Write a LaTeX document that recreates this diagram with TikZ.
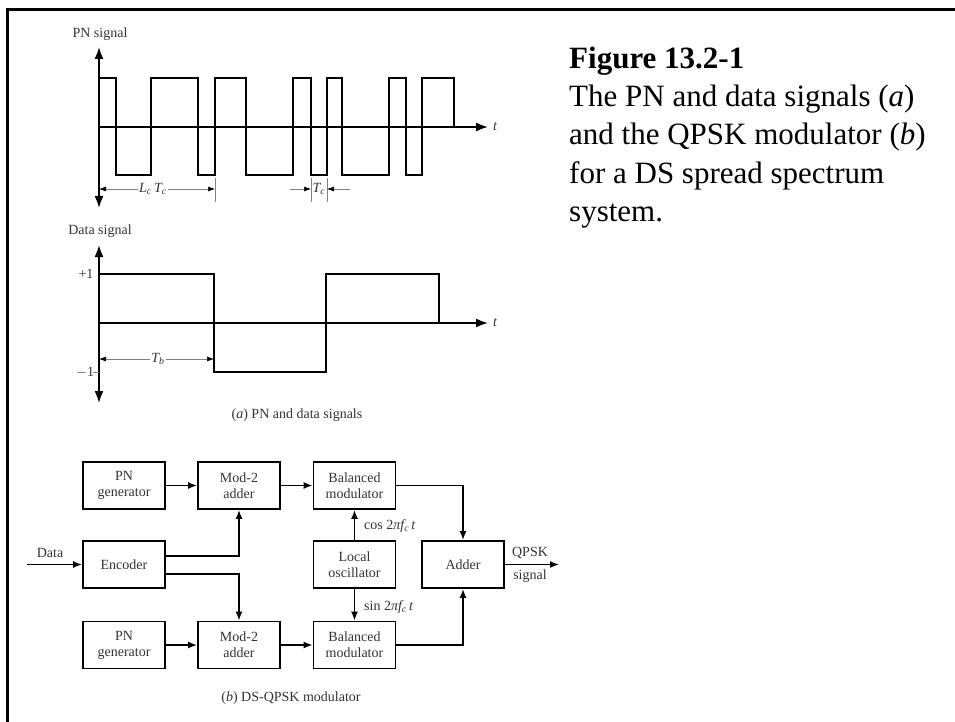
\documentclass[tikz,border=0pt]{standalone}
\usepackage{fontspec}
\setmainfont{Liberation Serif}
\usetikzlibrary{arrows.meta}
\newcommand\dglbl{\fontsize{14}{16}\selectfont}
\newcommand\capfont{\fontsize{31}{38}\selectfont}
\begin{document}
\begin{tikzpicture}[x=1pt,y=-1pt,
  blk/.style={draw, line width=1.8pt, minimum width=82pt, minimum height=47pt, align=center, font=\dglbl, inner sep=0pt, text=black!80},
  sig/.style={line width=2.2pt},
  axisln/.style={line width=1.8pt},
  axarrow/.style={axisln, -{Latex[length=12pt,width=9pt]}},
  axboth/.style={axisln, {Latex[length=12pt,width=9pt]}-{Latex[length=12pt,width=9pt]}},
  flow/.style={line width=1.6pt, -{Latex[length=9pt,width=7pt]}},
  dimln/.style={line width=0.6pt, black!50},
  dimarr/.style={dimln, -{Latex[length=7pt,width=5pt,black]}},
  lab/.style={font=\dglbl, text=black!80, inner sep=1pt},
  captxt/.style={font=\capfont, anchor=base west, inner sep=0pt}
]
\useasboundingbox (0,0) rectangle (955,722);
\fill[white] (0,0) rectangle (955,722);
% frame
\draw[line width=3pt] (7,725) -- (7,10) -- (958,10);

% ---------------- PN signal ----------------
\node[lab] (pnlab) at (100,34) {PN signal};
\draw[axboth] (99,208) -- (99,47);
\draw[axarrow] (99,127) -- (488,127);
\node[lab, anchor=west] (pnt) at (492,127) {\textit{t}};
\draw[sig] (99,78) -- (116,78) -- (116,175) -- (151,175) -- (151,78) -- (198,78) -- (198,175)
  -- (215,175) -- (215,78) -- (246,78) -- (246,175) -- (293,175) -- (293,78) -- (311,78)
  -- (311,175) -- (327,175) -- (327,78) -- (342,78) -- (342,175) -- (389,175) -- (389,78)
  -- (406,78) -- (406,175) -- (422,175) -- (422,78) -- (454,78) -- (454,127);
% Lc Tc dimension
\node[lab] (lctc) at (153,189) {\textit{L\textsubscript{c}\,T\textsubscript{c}}};
\draw[dimarr] (lctc.west) -- (99,189);
\draw[dimarr] (lctc.east) -- (215,189);
\draw[dimln] (215,178) -- (215,202);
% Tc dimension
\node[lab] (tc) at (319,189) {\textit{T\textsubscript{c}}};
\draw[dimln] (311,178) -- (311,202);
\draw[dimln] (327,178) -- (327,202);
\draw[dimarr] (290,189) -- (311,189);
\draw[dimarr] (350,189) -- (327,189);

% ---------------- Data signal ----------------
\node[lab] (datalab) at (100,231) {Data signal};
\draw[axboth] (99,403) -- (99,245);
\draw[axarrow] (99,323) -- (488,323);
\node[lab, anchor=west] (dt) at (492,323) {\textit{t}};
\draw[sig] (99,274) -- (214,274) -- (214,372) -- (326,372) -- (326,274) -- (439,274) -- (439,323);
\node[lab] (p1) at (86,274) {+1};
\node[lab] (m1l) at (85,372) {$-$1};
\draw[dimln] (93,372) -- (99,372);
\node[lab] (tb) at (158,359) {\textit{T\textsubscript{b}}};
\draw[dimarr] (tb.west) -- (99,359);
\draw[dimarr] (tb.east) -- (214,359);
\node[lab] (capa) at (297,415) {(\textit{a}) PN and data signals};

% ---------------- Block diagram ----------------
\node[blk] (pn1) at (124,485.5) {PN\\generator};
\node[blk] (mod1) at (239,485.5) {Mod-2\\adder};
\node[blk] (bal1) at (354.5,485.5) {Balanced\\modulator};
\node[blk] (enc) at (124,564.5) {Encoder};
\node[blk] (lo) at (354.5,564.5) {Local\\oscillator};
\node[blk] (add) at (463,564.5) {Adder};
\node[blk] (pn2) at (124,645) {PN\\generator};
\node[blk] (mod2) at (239,645) {Mod-2\\adder};
\node[blk] (bal2) at (354.5,645) {Balanced\\modulator};

\coordinate (din) at (27,564.5);
\coordinate (qout) at (559,564.5);

\draw[flow] (din) -- (enc.west);
\node[lab] (datatxt) at (50,553) {Data};
\draw[flow] (pn1) -- (mod1);
\draw[flow] (mod1) -- (bal1);
\draw[flow] ([yshift=8.5pt]enc.east) -| (mod1.south);
\draw[flow] ([yshift=-9.5pt]enc.east) -| (mod2.north);
\draw[flow] (pn2) -- (mod2);
\draw[flow] (mod2) -- (bal2);
\draw[flow] (lo) -- (bal1);
\draw[flow] (lo) -- (bal2);
\draw[flow] (bal1.east) -| (add.north);
\draw[flow] (bal2.east) -| (add.south);
\draw[flow] (add.east) -- (qout);
\node[lab, anchor=west] (cosl) at (363,526) {cos 2\textit{πf\textsubscript{c}\,t}};
\node[lab, anchor=west] (sinl) at (363,607) {sin 2\textit{πf\textsubscript{c}\,t}};
\node[lab] (qpsk) at (530,553) {QPSK};
\node[lab] (qsig) at (530,576) {signal};
\node[lab] (capb) at (291,698) {(\textit{b}) DS-QPSK modulator};

% ---------------- Caption ----------------
\node[captxt] (c1) at (569,69) {\bfseries Figure 13.2-1};
\node[captxt] (c2) at (569,107) {The PN and data signals (\textit{a})};
\node[captxt] (c3) at (569,145) {and the QPSK modulator (\textit{b})};
\node[captxt] (c4) at (569,183) {for a DS spread spectrum};
\node[captxt] (c5) at (569,221) {system.};
\end{tikzpicture}
\end{document}
